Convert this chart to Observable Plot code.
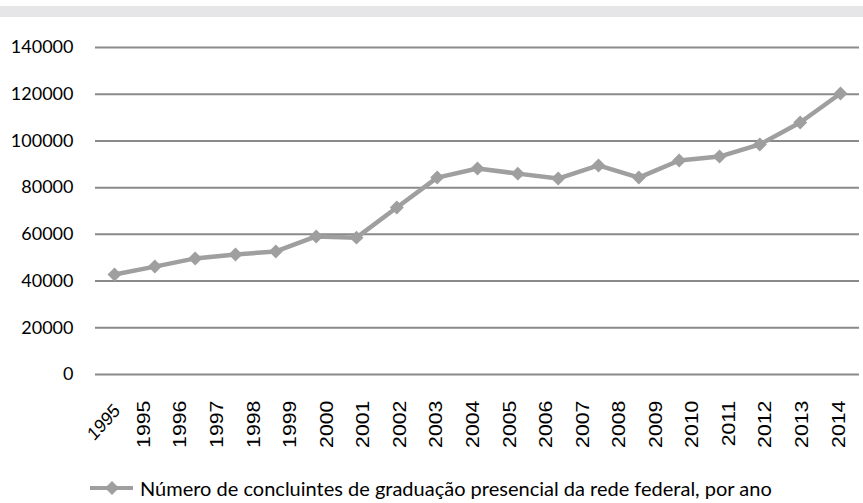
<!DOCTYPE html>
<html><head><meta charset="utf-8">
<script src="https://cdn.jsdelivr.net/npm/d3@7"></script>
<script src="https://cdn.jsdelivr.net/npm/@observablehq/plot@0.6"></script>
<style>
body{margin:0;background:#fff;font-family:Lato,sans-serif;width:863px;height:503px;position:relative;overflow:hidden;}
#band{position:absolute;top:6px;left:0;height:11px;width:863px;background:#e6e6e8;}
#main{position:absolute;top:17px;left:0;}
#xlabels{position:absolute;top:390px;left:0;transform:scaleY(1.12);transform-origin:0 0;}
#legend{position:absolute;top:476px;left:88px;display:flex;align-items:center;font-family:Lato,sans-serif;font-size:20px;color:#000;white-space:nowrap;}
#legend span{margin-left:2px;}
</style></head><body>
<div id="band"></div>
<div id="main"></div>
<div id="xlabels"></div>
<div id="legend"></div>
<script>
const pointYears = [1995,1996,1997,1998,1999,2000,2001,2002,2003,2004,2005,2006,2007,2008,2009,2010,2011,2012,2013];
const values = [42800,46200,49700,51400,52700,59100,58600,71500,84300,88200,86000,83900,89500,84300,91600,93300,98500,107900,120300];
const yTicks = [0,20000,40000,60000,80000,100000,120000,140000];
const xTickLabels = ["1995","1995","1996","1997","1998","1999","2000","2001","2002","2003","2004","2005","2006","2007","2008","2009","2010","2011","2012","2013","2014"];
const seriesName = "Número de concluintes de graduação presencial da rede federal, por ano";

const lineColor = "#9f9f9f";
const data = pointYears.map((year, i) => ({year, value: values[i]}));

const main = Plot.plot({
  width: 863, height: 373,
  marginTop: 30, marginBottom: 16, marginLeft: 95, marginRight: 4,
  x: {type: "linear", domain: [pointYears[0], pointYears[pointYears.length-1]], insetLeft: 19, insetRight: 19, axis: null},
  y: {domain: [0, 140000]},
  style: {fontFamily: "Lato, sans-serif", fontSize: "18px", color: "#000", background: "transparent", overflow: "visible"},
  marks: [
    Plot.ruleY(yTicks, {stroke: "#8a8a8a", strokeWidth: 2}),
    Plot.axisY(yTicks, {tickSize: 0, tickPadding: 22, tickFormat: d => String(d), label: null, fontSize: 18}),
    Plot.line(data, {x: "year", y: "value", stroke: lineColor, strokeWidth: 4.5}),
    Plot.dot(data, {x: "year", y: "value", symbol: "diamond2", r: 6.3, fill: lineColor, stroke: "none"})
  ]
});
document.getElementById("main").appendChild(main);

const idx = d3.range(xTickLabels.length);
const xl = Plot.plot({
  width: 863, height: 60,
  marginTop: 9, marginBottom: 0, marginLeft: 106.7, marginRight: 25,
  x: {type: "linear", domain: [0, xTickLabels.length - 1], axis: null},
  style: {fontFamily: "'Liberation Sans', Arial, sans-serif", fontSize: "19px", color: "#000", background: "transparent", overflow: "visible"},
  marks: [
    Plot.text(idx.slice(1), {x: d => d, text: d => xTickLabels[d], frameAnchor: "top", rotate: -90, textAnchor: "end", lineAnchor: "middle", fontSize: 19, fill: "#000"}),
    Plot.text(idx.slice(0, 1), {x: d => d, text: d => xTickLabels[d], frameAnchor: "top", rotate: -45, textAnchor: "end", lineAnchor: "middle", dx: 10, dy: 6, fontSize: 17, fill: "#000"})
  ]
});
document.getElementById("xlabels").appendChild(xl);

const legend = document.getElementById("legend");
legend.innerHTML = `<svg width="50" height="24"><line x1="2" x2="45" y1="12" y2="12" stroke="${lineColor}" stroke-width="4"/><path d="M24 5 L31 12 L24 19 L17 12Z" fill="${lineColor}"/></svg>`;
const span = document.createElement("span");
span.textContent = seriesName;
legend.appendChild(span);
</script>
</body></html>
